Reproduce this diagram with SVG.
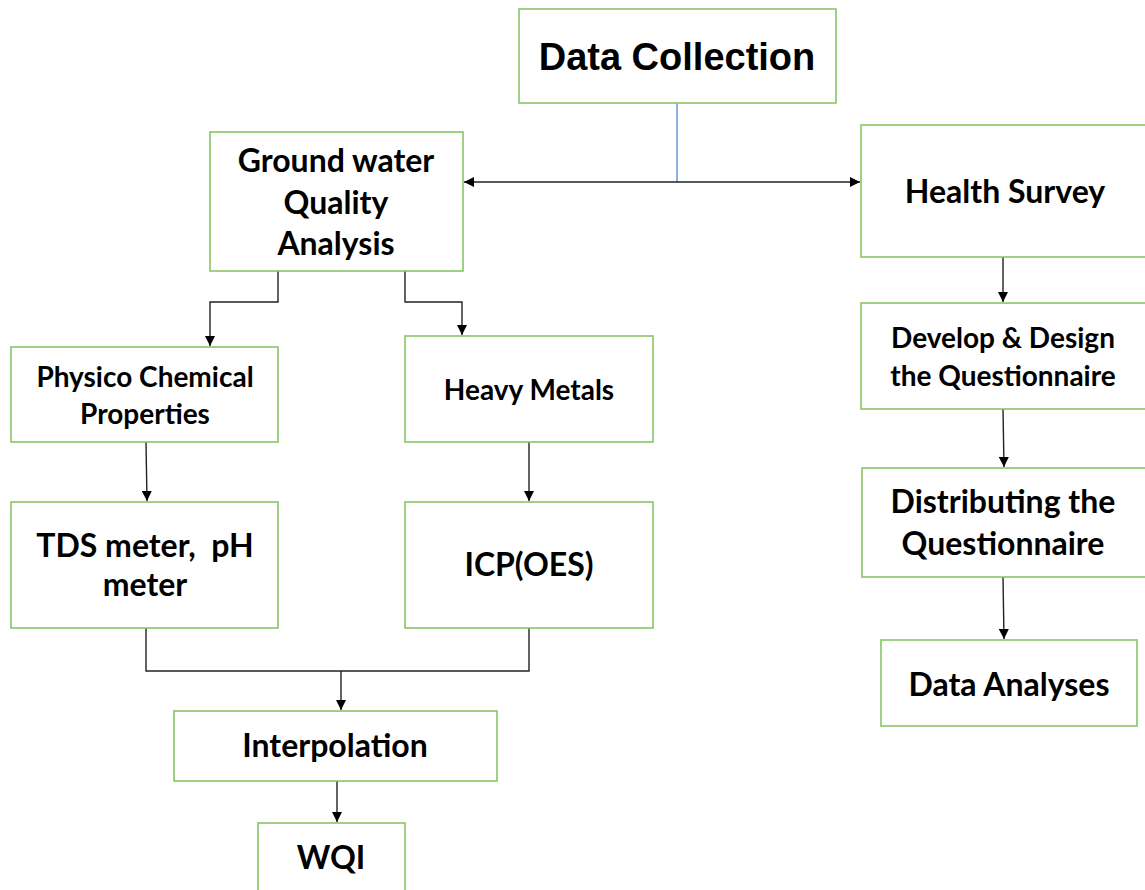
<svg xmlns="http://www.w3.org/2000/svg" width="1145" height="890" viewBox="0 0 1145 890">
<style>
.box{fill:#fff;stroke:#88c565;stroke-width:1.6}
.t{font-family:Lato,"Liberation Sans",sans-serif;font-weight:bold;fill:#000;text-anchor:middle}
.c{fill:none;stroke:#222;stroke-width:1.4}
</style>
<defs>
<marker id="ah" viewBox="0 0 10 10" refX="10" refY="5" markerWidth="10" markerHeight="10" markerUnits="userSpaceOnUse" orient="auto-start-reverse">
<path d="M0,0 L10,5 L0,10 z" fill="#000"/>
</marker>
</defs>
<rect width="1145" height="890" fill="#fff"/>
<g id="connectors">
<line x1="677" y1="103" x2="677" y2="182" stroke="#5b8fd6" stroke-width="1.4"/>
<line class="c" x1="464" y1="182" x2="860" y2="182" marker-start="url(#ah)" marker-end="url(#ah)"/>
<polyline class="c" points="278,271 278,302 210,302 210,346" marker-end="url(#ah)"/>
<polyline class="c" points="405,271 405,302 462,302 462,335" marker-end="url(#ah)"/>
<line class="c" x1="146" y1="442" x2="147" y2="501" marker-end="url(#ah)"/>
<line class="c" x1="529" y1="442" x2="529" y2="501" marker-end="url(#ah)"/>
<polyline class="c" points="146,628 146,671 529,671 529,628"/>
<line class="c" x1="341" y1="671" x2="341" y2="710" marker-end="url(#ah)"/>
<line class="c" x1="337" y1="781" x2="337" y2="822" marker-end="url(#ah)"/>
<line class="c" x1="1003" y1="257" x2="1003" y2="302" marker-end="url(#ah)"/>
<line class="c" x1="1003" y1="409" x2="1004" y2="467" marker-end="url(#ah)"/>
<line class="c" x1="1003" y1="577" x2="1004" y2="639" marker-end="url(#ah)"/>
</g>
<g id="data-collection">
<rect class="box" x="519" y="9" width="317" height="94"/>
<text x="677" y="70" style="font-family:'Liberation Sans',Arial,sans-serif;font-weight:bold;text-anchor:middle" font-size="38">Data Collection</text>
</g>
<g id="groundwater">
<rect class="box" x="210" y="132" width="253" height="139"/>
<text class="t" x="336" y="172" font-size="32">Ground water</text>
<text class="t" x="336" y="214" font-size="32">Quality</text>
<text class="t" x="336" y="255" font-size="32">Analysis</text>
</g>
<g id="health-survey">
<rect class="box" x="861" y="125" width="290" height="132"/>
<text class="t" x="1005" y="203" font-size="32">Health Survey</text>
</g>
<g id="develop">
<rect class="box" x="861" y="303" width="290" height="106"/>
<text class="t" x="1003" y="348" font-size="28">Develop &amp; Design</text>
<text class="t" x="1003" y="386" font-size="28">the Questionnaire</text>
</g>
<g id="distributing">
<rect class="box" x="862" y="468" width="290" height="109"/>
<text class="t" x="1003" y="513" font-size="32">Distributing the</text>
<text class="t" x="1003" y="555" font-size="32">Questionnaire</text>
</g>
<g id="data-analyses">
<rect class="box" x="881" y="640" width="256" height="86"/>
<text class="t" x="1009" y="696" font-size="32">Data Analyses</text>
</g>
<g id="physico">
<rect class="box" x="11" y="347" width="267" height="95"/>
<text class="t" x="145" y="387" font-size="28">Physico Chemical</text>
<text class="t" x="145" y="424" font-size="28">Properties</text>
</g>
<g id="heavy-metals">
<rect class="box" x="405" y="336" width="248" height="106"/>
<text class="t" x="529" y="400" font-size="28">Heavy Metals</text>
</g>
<g id="tds">
<rect class="box" x="11" y="502" width="267" height="126"/>
<text class="t" x="145" y="557" font-size="32" xml:space="preserve">TDS meter,  pH</text>
<text class="t" x="145" y="596" font-size="32">meter</text>
</g>
<g id="icp">
<rect class="box" x="405" y="502" width="248" height="126"/>
<text class="t" x="529" y="576" font-size="32">ICP(OES)</text>
</g>
<g id="interpolation">
<rect class="box" x="174" y="711" width="323" height="70"/>
<text class="t" x="335" y="757" font-size="32">Interpolation</text>
</g>
<g id="wqi">
<rect class="box" x="258" y="823" width="147" height="80"/>
<text class="t" x="331" y="869" font-size="32">WQI</text>
</g>
</svg>
